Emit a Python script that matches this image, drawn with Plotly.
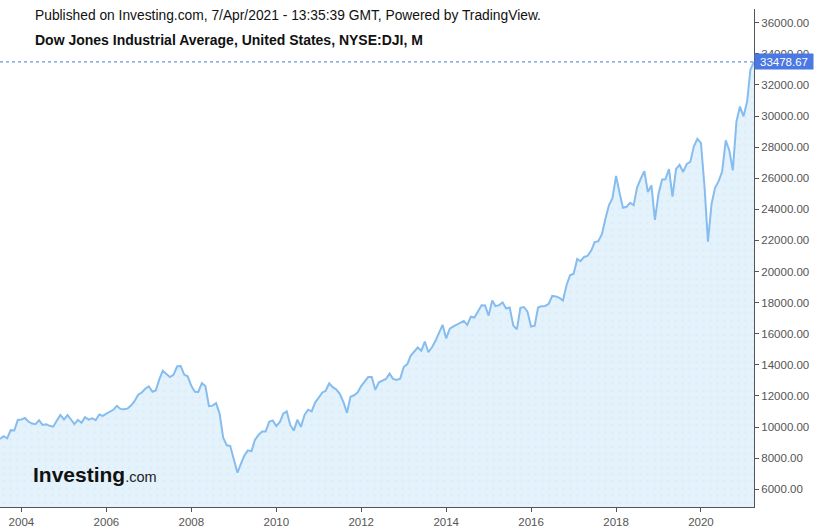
import plotly.graph_objects as go
import pandas as pd

# Monthly closes of the Dow Jones Industrial Average (Jul 2003 - Apr 2021)
start_month = "2003-07-01"
closes_2003 = [9233.80, 9415.82, 9275.06, 9801.12, 9782.46, 10453.92]
closes_2004 = [10488.07, 10583.92, 10357.70, 10225.57, 10188.45, 10435.48, 10139.71, 10173.92, 10080.27, 10027.47, 10428.02, 10783.01]
closes_2005 = [10489.94, 10766.23, 10503.76, 10192.51, 10467.48, 10274.97, 10640.91, 10481.60, 10568.70, 10440.07, 10805.87, 10717.50]
closes_2006 = [10864.86, 10993.41, 11109.32, 11367.14, 11168.31, 11150.22, 11185.68, 11381.15, 11679.07, 12080.73, 12221.93, 12463.15]
closes_2007 = [12621.69, 12268.63, 12354.35, 13062.91, 13627.64, 13408.62, 13211.99, 13357.74, 13895.63, 13930.01, 13371.72, 13264.82]
closes_2008 = [12650.36, 12266.39, 12262.89, 12820.13, 12638.32, 11350.01, 11378.02, 11543.55, 10850.66, 9325.01, 8829.04, 8776.39]
closes_2009 = [8000.86, 7062.93, 7608.92, 8168.12, 8500.33, 8447.00, 9171.61, 9496.28, 9712.28, 9712.73, 10344.84, 10428.05]
closes_2010 = [10067.33, 10325.26, 10856.63, 11008.61, 10136.63, 9774.02, 10465.94, 10014.72, 10788.05, 11118.49, 11006.02, 11577.51]
closes_2011 = [11891.93, 12226.34, 12319.73, 12810.54, 12569.79, 12414.34, 12143.24, 11613.53, 10913.38, 11955.01, 12045.68, 12217.56]
closes_2012 = [12632.91, 12952.07, 13212.04, 13213.63, 12393.45, 12880.09, 13008.68, 13090.84, 13437.13, 13096.46, 13025.58, 13104.14]
closes_2013 = [13860.58, 14054.49, 14578.54, 14839.80, 15115.57, 14909.60, 15499.54, 14810.31, 15129.67, 15545.75, 16086.41, 16576.66]
closes_2014 = [15698.85, 16321.71, 16457.66, 16580.84, 16717.17, 16826.60, 16563.30, 17098.45, 17042.90, 17390.52, 17828.24, 17823.07]
closes_2015 = [17164.95, 18132.70, 17776.12, 17840.52, 18010.68, 17619.51, 17689.86, 16528.03, 16284.70, 17663.54, 17719.92, 17425.03]
closes_2016 = [16466.30, 16516.50, 17685.09, 17773.64, 17787.20, 17929.99, 18432.24, 18400.88, 18308.15, 18142.42, 19123.58, 19762.60]
closes_2017 = [19864.09, 20812.24, 20663.22, 20940.51, 21008.65, 21349.63, 21891.12, 21948.10, 22405.09, 23377.24, 24272.35, 24719.22]
closes_2018 = [26149.39, 25029.20, 24103.11, 24163.15, 24415.84, 24271.41, 25415.19, 25964.82, 26458.31, 25115.76, 25538.46, 23327.46]
closes_2019 = [24999.67, 25916.00, 25928.68, 26592.91, 24815.04, 26599.96, 26864.27, 26403.28, 26916.83, 27046.23, 28051.41, 28538.44]
closes_2020 = [28256.03, 25409.36, 21917.16, 24345.72, 25383.11, 25812.88, 26428.32, 28430.05, 27781.70, 26501.60, 29638.64, 30606.48]
closes_2021 = [29982.62, 30932.37, 32981.55, 33478.67]

last_price = 33478.67
x_tick_years = ["2004", "2006", "2008", "2010", "2012", "2014", "2016", "2018", "2020"]
y_tick_vals = list(range(6000, 36001, 2000))

closes = (closes_2003 + closes_2004 + closes_2005 + closes_2006 + closes_2007 + closes_2008
          + closes_2009 + closes_2010 + closes_2011 + closes_2012 + closes_2013 + closes_2014
          + closes_2015 + closes_2016 + closes_2017 + closes_2018 + closes_2019 + closes_2020
          + closes_2021)
dates = pd.date_range(start_month, periods=len(closes), freq="MS")

W, H = 818, 531
ML, MR, MT, MB = 0, 64, 9, 24
PH = H - MT - MB

def py(ypx):
    return 1 - (ypx - MT) / PH

FONT = "Liberation Sans, Arial, sans-serif"
LINE = "#86bdee"
AXIS = "#555555"
BLUE = "#4b78e3"

fig = go.Figure()
fig.add_trace(go.Scatter(
    x=dates, y=closes, mode="lines",
    line=dict(color=LINE, width=2),
    fill="tozeroy",
    fillcolor="#e3f2fc",
    fillpattern=dict(shape=".", bgcolor="#e4f2fc", fgcolor="#d3e8f7", size=7, solidity=0.12),
    hoverinfo="skip",
))

fig.add_shape(type="line", xref="paper", yref="y", x0=0, x1=1, y0=last_price, y1=last_price,
              line=dict(color=BLUE, width=1, dash="dot"))

fig.add_annotation(xref="paper", yref="y", x=1, y=last_price, xanchor="left", yanchor="middle",
                   text=f"{last_price:.2f}", showarrow=False, bgcolor=BLUE,
                   font=dict(family=FONT, size=11.5, color="white"),
                   width=54, height=11, borderpad=2, align="center")

fig.add_annotation(xref="paper", yref="paper", x=33 / (W - ML - MR), y=py(16), xanchor="left",
                   yanchor="middle", showarrow=False,
                   text="Published on Investing.com, 7/Apr/2021 - 13:35:39 GMT, Powered by TradingView.",
                   font=dict(family=FONT, size=13.8, color="#111111"))
fig.add_annotation(xref="paper", yref="paper", x=33 / (W - ML - MR), y=py(40), xanchor="left",
                   yanchor="middle", showarrow=False,
                   text="<b>Dow Jones Industrial Average, United States, NYSE:DJI, M</b>",
                   font=dict(family=FONT, size=14, color="#111111"))
fig.add_annotation(xref="paper", yref="paper", x=31 / (W - ML - MR), y=py(474), xanchor="left",
                   yanchor="middle", showarrow=False,
                   text="<b>Investing</b><span style='font-size:14.5px;color:#222'>.com</span>",
                   font=dict(family=FONT, size=21, color="#111111"))

fig.update_layout(
    width=W, height=H,
    margin=dict(l=ML, r=MR, t=MT, b=MB),
    paper_bgcolor="white", plot_bgcolor="white",
    showlegend=False,
    font=dict(family=FONT, color=AXIS),
)
fig.update_xaxes(
    type="date",
    range=["2003-07-01", "2021-04-01"],
    tickvals=[f"{y}-01-01" for y in x_tick_years],
    ticktext=x_tick_years,
    showgrid=False, zeroline=False,
    showline=True, linecolor=AXIS, linewidth=1,
    ticks="outside", ticklen=4, tickcolor=AXIS,
    tickfont=dict(family=FONT, size=11.5, color=AXIS),
)
fig.update_yaxes(
    side="right",
    range=[4861, 36881],
    tickvals=y_tick_vals,
    tickformat=".2f",
    showgrid=False, zeroline=False,
    showline=True, linecolor=AXIS, linewidth=1,
    ticks="outside", ticklen=4, tickcolor=AXIS,
    tickfont=dict(family=FONT, size=11.5, color=AXIS),
)

fig.write_html("out.html")
